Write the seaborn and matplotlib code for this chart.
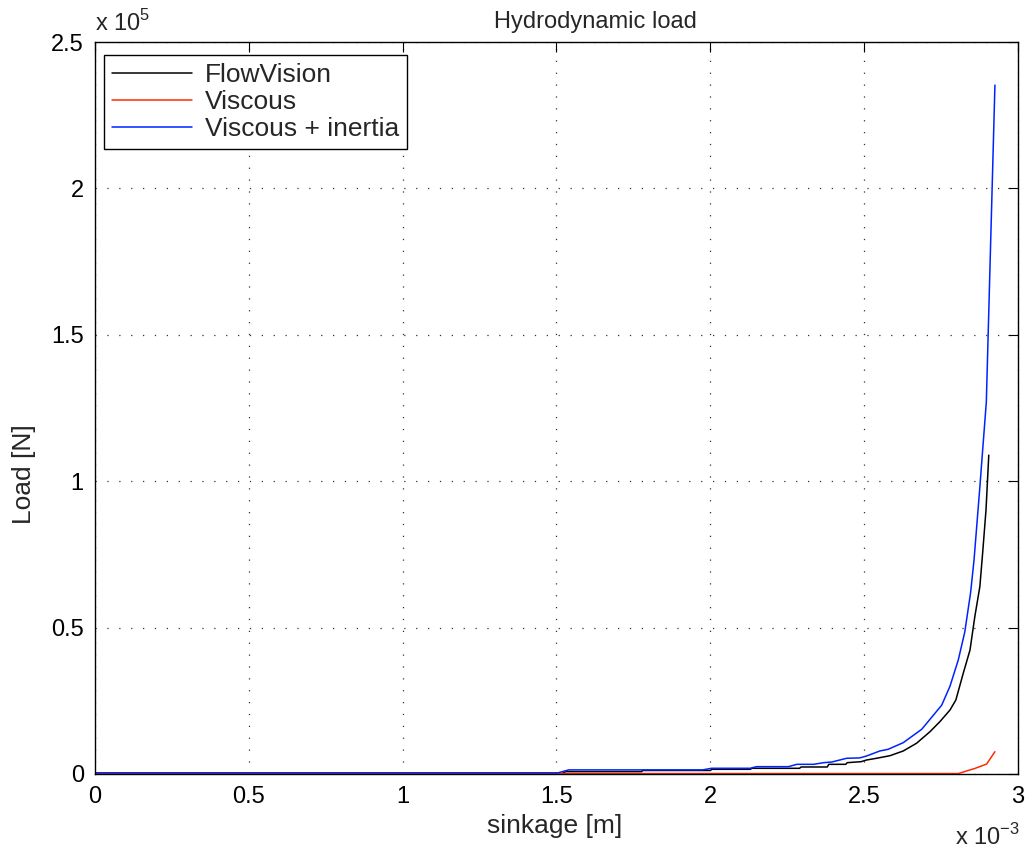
import numpy as np
import pandas as pd
import matplotlib
matplotlib.use("Agg")
import matplotlib.pyplot as plt
from matplotlib.ticker import FuncFormatter, MultipleLocator
import seaborn as sns

# Sinkage in metres, load in newtons
flowvision_x = [0.0, 1.520e-3, 1.530e-3, 1.777e-3, 1.780e-3, 2.000e-3, 2.005e-3, 2.130e-3, 2.135e-3,
                2.290e-3, 2.295e-3, 2.380e-3, 2.385e-3, 2.440e-3, 2.445e-3, 2.490e-3, 2.508e-3,
                2.540e-3, 2.584e-3, 2.627e-3, 2.670e-3, 2.714e-3, 2.746e-3, 2.779e-3, 2.798e-3,
                2.822e-3, 2.844e-3, 2.860e-3, 2.876e-3, 2.885e-3, 2.896e-3, 2.905e-3]
flowvision_y = [200, 200, 800, 800, 1200, 1200, 1600, 1600, 1940,
                1940, 2390, 2390, 3300, 3300, 3870, 4200, 4780,
                5360, 6250, 7860, 10480, 14450, 17860, 21860, 25270,
                34390, 42350, 54000, 64000, 75400, 90200, 108900]

viscous_x = [0.0, 2.806e-3, 2.860e-3, 2.898e-3, 2.925e-3]
viscous_y = [150, 150, 1900, 3400, 7600]

inertia_x = [0.0, 1.505e-3, 1.540e-3, 1.975e-3, 2.004e-3, 2.130e-3, 2.150e-3, 2.254e-3, 2.281e-3,
             2.336e-3, 2.368e-3, 2.395e-3, 2.443e-3, 2.486e-3, 2.508e-3, 2.551e-3, 2.578e-3,
             2.627e-3, 2.687e-3, 2.752e-3, 2.779e-3, 2.806e-3, 2.827e-3, 2.846e-3, 2.857e-3,
             2.876e-3, 2.885e-3, 2.897e-3, 2.925e-3]
inertia_y = [400, 400, 1400, 1400, 1950, 1950, 2500, 2500, 3300,
             3300, 3860, 4100, 5360, 5500, 6150, 7860, 8430,
             10700, 15260, 23500, 30000, 39000, 48500, 62000, 73000,
             98000, 110500, 127000, 235300]

series_names = ["FlowVision", "Viscous", "Viscous + inertia"]
series_colors = ["black", "#ff2a00", "#0022ff"]

frames = []
for name, xs, ys in zip(series_names,
                        [flowvision_x, viscous_x, inertia_x],
                        [flowvision_y, viscous_y, inertia_y]):
    frames.append(pd.DataFrame({"sinkage": xs, "load": ys, "series": name}))
data = pd.concat(frames, ignore_index=True)

sns.set_theme(style="white")
plt.rcParams["font.family"] = ["Liberation Sans", "DejaVu Sans"]
plt.rcParams["mathtext.fontset"] = "custom"
plt.rcParams["mathtext.rm"] = "Liberation Sans"

fig = plt.figure(figsize=(10.31, 8.51), dpi=100)
ax = fig.add_axes([0.0921, 0.0905, 0.8953, 0.8601])

sns.lineplot(data=data, x="sinkage", y="load", hue="series", hue_order=series_names,
             palette=series_colors, estimator=None, sort=False, units="series",
             linewidth=1.1, ax=ax, legend=True)

ax.set_xlim(0, 3e-3)
ax.set_ylim(0, 2.5e5)
ax.xaxis.set_major_locator(MultipleLocator(0.5e-3))
ax.yaxis.set_major_locator(MultipleLocator(0.5e5))
ax.xaxis.set_major_formatter(FuncFormatter(lambda v, p: f"{v / 1e-3:g}"))
ax.yaxis.set_major_formatter(FuncFormatter(lambda v, p: f"{v / 1e5:g}"))

ax.tick_params(direction="in", length=7, width=0.8, colors="black", labelsize=17,
               top=True, right=True)
ax.tick_params(axis="x", pad=9)
ax.tick_params(axis="y", pad=8)
for s in ax.spines.values():
    s.set_visible(True)
    s.set_color("black")
    s.set_linewidth(1.0)

ax.grid(True, color="#333333", linestyle=(0, (1, 8.5)), linewidth=0.9)

# Title, axis labels and the scale factors of both axes
ax.set_xlabel("")
ax.set_ylabel("")
fig.text(595 / 1031, 1 - 22 / 851, "Hydrodynamic load", fontsize=17,
         ha="center", va="center")
fig.text(555 / 1031, 1 - 826 / 851, "sinkage [m]", fontsize=19,
         ha="center", va="center")
fig.text(24 / 1031, 1 - 474 / 851, "Load [N]", fontsize=19, rotation=90,
         ha="center", va="center")
ax.text(0.0, 1.008, r"x 10$^{5}$", transform=ax.transAxes, fontsize=17,
        ha="left", va="bottom")
ax.text(1.002, -0.068, r"x 10$^{-3}$", transform=ax.transAxes, fontsize=17,
        ha="right", va="top")

leg = ax.legend(loc="upper left", bbox_to_anchor=(9 / 923, 1 - 13 / 732),
                borderaxespad=0, fontsize=19, frameon=True, fancybox=False,
                edgecolor="black", framealpha=1, handlelength=3.0, handletextpad=0.5,
                borderpad=0.32, labelspacing=0.1)
leg.get_frame().set_linewidth(1.0)
for line in leg.get_lines():
    line.set_linewidth(1.1)

fig.savefig("out.png", dpi=100)
